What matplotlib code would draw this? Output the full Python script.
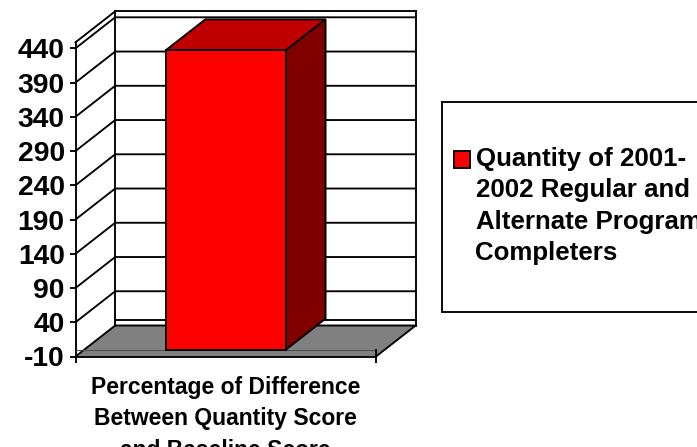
import matplotlib
matplotlib.use("Agg")
import matplotlib.pyplot as plt
from matplotlib.patches import Polygon, Rectangle

categories = ["Percentage of Difference\nBetween Quantity Score\nand Baseline Score"]
values = [437]
series_name = "Quantity of 2001-\n2002 Regular and\nAlternate Program\nCompleters"
y_ticks = [-10, 40, 90, 140, 190, 240, 290, 340, 390, 440]
y_labels = ["-10", "40", "90", "140", "190", "240", "290", "340", "390", "440"]

W, H = 697, 447
FONT = "Liberation Sans"
LW = 1.35
fig = plt.figure(figsize=(W / 100, H / 100), dpi=100)
L, R, B, T = 75.5, 376.0, 356.5, 48.3
ax = fig.add_axes([L / W, 1 - B / H, (R - L) / W, (B - T) / H])
ax.set_xlim(-0.5, 0.5)
ax.set_ylim(-10, 440)
ax.patch.set_visible(False)
for s in ax.spines.values():
    s.set_visible(False)

DX = 39.7 / (R - L)
DY = 31.0 * 450 / (B - T)
GAP = 6.0 * 450 / (B - T)
x0, x1 = -0.5, 0.5
y0, y1 = -10, 440
ln = dict(color="black", lw=LW, clip_on=False, solid_capstyle="projecting")

# back wall and its gridlines
ax.plot([x0 + DX, x0 + DX], [y0 + DY, y1 + DY + GAP], zorder=1, **ln)
ax.plot([x1 + DX, x1 + DX], [y0 + DY, y1 + DY + GAP], zorder=1, **ln)
ax.plot([x0 + DX, x1 + DX], [y1 + DY + GAP] * 2, zorder=1, **ln)
ax.plot([x0, x0 + DX], [y1 + GAP, y1 + DY + GAP], zorder=1, **ln)
for t in y_ticks[1:]:
    ax.plot([x0, x0 + DX, x1 + DX], [t, t + DY, t + DY], zorder=1, **ln)
ax.plot([x0 + DX, x1 + DX], [y0 + DY + GAP] * 2, zorder=1, **ln)
ax.plot([x0, x0], [y0, y1 + GAP], zorder=1, **ln)

# floor slab
ax.add_patch(Polygon([(x0, y0), (x0 + DX, y0 + DY), (x1 + DX, y0 + DY), (x1, y0)],
                     closed=True, fc="#808080", ec="none", clip_on=False, zorder=2))
ax.plot([x0 + DX, x1 + DX, x1], [y0 + DY, y0 + DY, y0], zorder=2, **ln)
ax.plot([x0, x0 + DX], [y0, y0 + DY], zorder=2, **ln)
ax.plot([x0, x1], [0, 0], color="#505050", lw=0.8, zorder=2)
ax.plot([x1, x1], [y0, 0], zorder=2, **ln)
ax.plot([x0, x1], [y0, y0], zorder=2, **ln)

# bar
WIDTH = 0.4
bars = ax.bar([0], values, width=WIDTH, color="#ff0000", edgecolor="black", linewidth=LW, zorder=4, clip_on=False)
b = bars[0]
bl, br, top = b.get_x(), b.get_x() + b.get_width(), b.get_height()
ax.add_patch(Polygon([(bl, top), (bl + DX, top + DY), (br + DX, top + DY), (br, top)],
                     closed=True, fc="#c00000", ec="black", lw=LW, clip_on=False, zorder=3))
ax.add_patch(Polygon([(br, 0), (br + DX, DY), (br + DX, top + DY), (br, top)],
                     closed=True, fc="#800000", ec="black", lw=LW, clip_on=False, zorder=3))

# axes ticks and labels
ax.set_yticks(y_ticks)
ax.set_yticklabels(y_labels, fontfamily=FONT, fontweight="bold", fontsize=20.3)
ax.tick_params(axis="y", length=4.3, width=LW, pad=3.5, color="black")
ax.set_xticks([x0, x1], ["", ""])
ax.tick_params(axis="x", length=4.6, width=LW, color="black")
ax.text(0, -0.062, categories[0], transform=ax.get_xaxis_transform(), ha="center", va="top",
        fontfamily=FONT, fontweight="bold", fontsize=16.5, linespacing=1.49, clip_on=False)
ax.set_xlabel("")

# legend box
fig.add_artist(Rectangle((441.5 / W, 1 - 311.5 / H), 270 / W, 209 / H, transform=fig.transFigure,
                         fc="white", ec="black", lw=LW))
fig.add_artist(Rectangle((453.5 / W, 1 - 167.5 / H), 16.5 / W, 16.5 / H, transform=fig.transFigure,
                         fc="#ff0000", ec="black", lw=LW))
fig.text(475.5 / W, 1 - 147 / H, series_name, ha="left", va="top", fontfamily=FONT,
         fontweight="bold", fontsize=18.65, linespacing=1.39)

fig.savefig("out.png", dpi=100)
